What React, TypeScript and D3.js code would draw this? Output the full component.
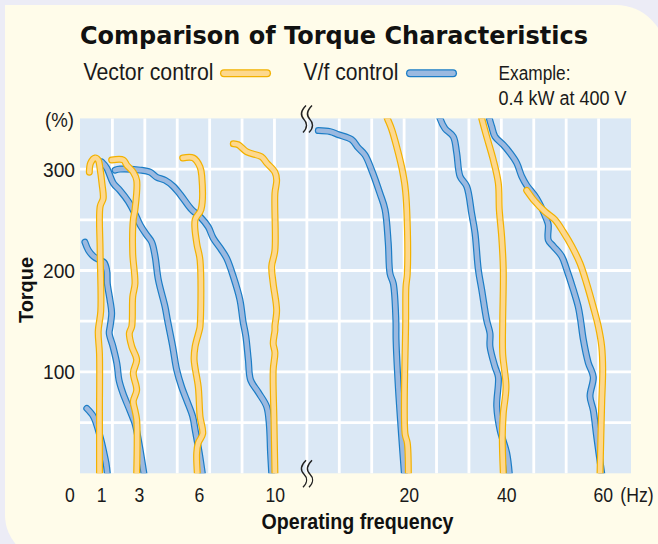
import React from "react";
import * as d3 from "d3";

// axis ticks (frequency axis is broken between 10 and 20 Hz, so it is piecewise)
const freqTicks = [0, 1, 3, 6, 10, 20, 40, 60];
const torqueTicks = [100, 200, 300];
const torqueGrid = [50, 100, 150, 200, 250, 300];

// [frequency position (Hz), torque (%)]
// V/f control
const vf1Hz = [[0.53, 64], [0.74, 56], [0.89, 43], [1.0, 30], [1.12, 20], [1.23, 10], [1.3, 0]];
const vf3Hz = [[0.47, 228], [0.58, 220], [0.74, 214], [0.95, 210], [1.12, 208], [1.27, 200], [1.3, 187], [1.44, 171], [1.53, 158], [1.45, 145], [1.4, 138], [1.6, 125], [1.81, 108], [1.92, 92], [2.13, 79], [2.5, 62], [2.77, 49], [2.98, 30], [3.23, 0]];
const vf6Hz = [[1.0, 307], [1.27, 301], [1.62, 286], [1.97, 279], [2.42, 268], [2.77, 256], [3.04, 245], [3.37, 235], [3.62, 228], [3.79, 214], [3.95, 191], [4.29, 164], [4.41, 151], [4.67, 125], [4.87, 102], [5.12, 85], [5.37, 72], [5.67, 56], [5.79, 43], [6.0, 20], [6.16, 0]];
const vf10Hz = [[1.71, 299], [1.97, 300], [3.04, 299], [3.54, 297], [3.87, 292], [4.29, 289], [4.7, 283], [5.12, 273], [5.62, 260], [6.04, 253], [6.47, 243], [6.73, 232], [7.18, 220], [7.44, 212], [7.79, 194], [8.14, 171], [8.3, 150], [8.45, 135], [8.58, 112], [8.7, 92], [9.1, 80], [9.54, 66], [9.68, 49], [9.75, 20], [9.81, 0]];
const vf20Hz = [[13.21, 338], [14.08, 337], [14.7, 334], [15.7, 329], [16.19, 321], [16.69, 314], [17.19, 299], [17.81, 276], [18.19, 260], [18.43, 227], [18.56, 197], [18.81, 187], [19.0, 150], [19.01, 132], [19.18, 85], [19.43, 36], [19.63, 0]];
const vf40Hz = [[26.0, 356], [26.3, 350], [27.33, 340], [29.03, 332], [29.73, 316], [30.41, 293], [31.79, 283], [32.81, 256], [33.49, 237], [34.17, 201], [34.87, 181], [35.89, 151], [36.57, 138], [36.57, 125], [37.6, 105], [38.28, 95], [37.95, 66], [38.62, 43], [40.0, 20], [40.54, 0]];
const vf60Hz = [[36.2, 356], [36.43, 350], [36.92, 342], [37.6, 332], [39.3, 324], [40.68, 316], [42.07, 306], [43.1, 293], [44.14, 284], [46.21, 271], [48.28, 250], [48.61, 245], [48.61, 230], [49.65, 224], [51.39, 214], [52.42, 201], [53.79, 181], [54.82, 164], [55.3, 151], [55.86, 132], [56.89, 109], [57.93, 95], [57.25, 76], [57.93, 62], [58.63, 36], [59.67, 0]];

// Vector control
const vec1Hz = [[0.61, 297], [0.65, 306], [0.79, 311], [0.89, 309], [0.95, 300], [1.02, 285], [1.08, 271], [0.95, 263], [0.95, 220], [0.97, 160], [0.89, 140], [0.93, 118], [0.93, 60], [0.93, 0]];
const vec3Hz = [[1.53, 309], [2.15, 309], [2.33, 304], [2.68, 297], [2.86, 289], [2.77, 260], [2.68, 250], [2.65, 217], [2.77, 187], [2.65, 174], [2.6, 145], [2.47, 138], [2.6, 125], [2.86, 112], [2.68, 99], [2.86, 82], [2.68, 71], [2.77, 62], [2.86, 53], [2.86, 0]];
const vec6Hz = [[5.17, 311], [5.7, 311], [6.04, 302], [6.13, 293], [6.09, 260], [5.79, 250], [5.87, 227], [6.04, 210], [6.04, 145], [6.0, 141], [5.79, 125], [5.74, 112], [5.95, 85], [6.04, 56], [6.18, 39], [5.95, 30], [5.87, 20], [5.9, 0]];
const vec10Hz = [[7.79, 325], [8.05, 324], [8.5, 317], [9.28, 312], [9.55, 306], [9.98, 297], [10.1, 289], [9.98, 276], [9.98, 220], [9.81, 204], [9.89, 187], [10.1, 161], [9.98, 145], [9.98, 141], [9.89, 128], [9.98, 119], [9.89, 102], [9.93, 53], [9.98, 0]];
const vec20Hz = [[18.2, 356], [18.36, 350], [18.69, 339], [19.06, 322], [19.43, 302], [19.68, 283], [19.81, 260], [19.85, 197], [19.75, 184], [19.73, 150], [19.68, 39], [19.85, 30], [19.93, 0]];
const vec40Hz = [[34.6, 356], [34.87, 350], [35.89, 332], [37.25, 309], [38.28, 286], [38.48, 260], [38.97, 233], [39.3, 201], [39.18, 150], [39.18, 118], [39.86, 85], [39.3, 59], [39.1, 36], [39.3, 0]];
const vec60Hz = [[44.14, 279], [45.86, 268], [47.93, 258], [50.0, 250], [51.72, 238], [53.46, 224], [55.18, 207], [56.56, 187], [57.93, 164], [58.96, 145], [59.67, 125], [59.88, 102], [59.67, 69], [59.32, 0]];

const vfCurves = [vf1Hz, vf3Hz, vf6Hz, vf10Hz, vf20Hz, vf40Hz, vf60Hz];
const vecCurves = [vec1Hz, vec3Hz, vec6Hz, vec10Hz, vec20Hz, vec40Hz, vec60Hz];

const W = 658;
const H = 544;
const plot = { left: 80, right: 631, top: 118.4, bottom: 473.3 };

const YELLOW = { edge: "#f2b100", fill: "#fdd88e" };
const BLUE = { edge: "#1b7dc6", fill: "#9bb9e0" };
const FONT = "'Liberation Sans', Arial, sans-serif";
const INK = "#1a1a1a";
const NARROW = 0.84; // squeeze Liberation Sans to look like a condensed grotesk

const x = d3.scaleLinear()
  .domain(freqTicks)
  .range([70, 101.7, 139.3, 199.3, 275.3, 409.3, 506.7, 603.3]);
const y = d3.scaleLinear().domain([0, 350]).range([plot.bottom, plot.top]);
const gridX = d3.scaleLinear().domain([0, 17]).range([plot.left, plot.right]);

const line = d3.line<number[]>()
  .x((d) => x(d[0]))
  .y((d) => y(d[1]))
  .curve(d3.curveCatmullRom.alpha(0.5));

const wave = (cx: number, cy: number) =>
  `M${cx + 2},${cy - 13} C${cx - 4},${cy - 7} ${cx - 3},${cy - 2} ${cx},${cy + 1} C${cx + 3},${cy + 4} ${cx + 4},${cy + 9} ${cx - 1},${cy + 14}`;

const Curve = ({ data, c }: { data: number[][]; c: { edge: string; fill: string } }) => (
  <g>
    <path d={line(data) ?? ""} fill="none" stroke={c.edge} strokeWidth={7} strokeLinecap="round" strokeLinejoin="round" />
    <path d={line(data) ?? ""} fill="none" stroke={c.fill} strokeWidth={4.6} strokeLinecap="round" strokeLinejoin="round" />
  </g>
);

const Swatch = ({ x1, x2, yy, c }: { x1: number; x2: number; yy: number; c: { edge: string; fill: string } }) => (
  <g>
    <line x1={x1} x2={x2} y1={yy} y2={yy} stroke={c.edge} strokeWidth={8} strokeLinecap="round" />
    <line x1={x1} x2={x2} y1={yy} y2={yy} stroke={c.fill} strokeWidth={5.4} strokeLinecap="round" />
  </g>
);

// condensed text label; len = wanted on-screen width
const Label = ({ tx, ty, size, anchor = "start", bold = false, rotate = 0, len, children }:
  { tx: number; ty: number; size: number; anchor?: string; bold?: boolean; rotate?: number; len?: number; children: React.ReactNode }) => (
  <text transform={`translate(${tx},${ty}) rotate(${rotate}) scale(${NARROW},1)`} textAnchor={anchor}
    fontSize={size} fontWeight={bold ? "bold" : "normal"} fill={bold ? "#111" : INK}
    textLength={len ? len / NARROW : undefined} lengthAdjust={len ? "spacingAndGlyphs" : undefined}>
    {children}
  </text>
);

export default function App() {
  const panel = `M5,5 H616 A50,50 0 0 1 666,55 V560 H50 A45,45 0 0 1 5,515 Z`;
  return (
    <svg width={W} height={H} style={{ position: "absolute", left: 0, top: 0 }} fontFamily={FONT}>
      <defs>
        <clipPath id="plotClip">
          <rect x={plot.left} y={plot.top} width={plot.right - plot.left} height={plot.bottom - plot.top} />
        </clipPath>
      </defs>
      <rect width={W} height={H} fill="#ececf6" />
      <path d={panel} fill="#fffcea" />

      {/* title */}
      <text x={334} y={43.5} textAnchor="middle" fontFamily="'DejaVu Sans', sans-serif" fontWeight="bold" fontSize={25}
        textLength={508} lengthAdjust="spacingAndGlyphs" fill="#111">
        Comparison of Torque Characteristics
      </text>

      {/* legend */}
      <Label tx={83.5} ty={80} size={23} len={130}>Vector control</Label>
      <Swatch x1={224} x2={267} yy={73.3} c={YELLOW} />
      <Label tx={303.5} ty={80} size={23} len={95}>V/f control</Label>
      <Swatch x1={410} x2={453} yy={73.3} c={BLUE} />
      <Label tx={498.5} ty={80} size={21} len={72}>Example:</Label>
      <Label tx={498.5} ty={105} size={21} len={128}>0.4 kW at 400 V</Label>

      {/* plot area */}
      <rect x={plot.left} y={plot.top} width={plot.right - plot.left} height={plot.bottom - plot.top} fill="#dbe8f5" />
      {d3.range(1, 17).map((i) => (
        <line key={"gx" + i} x1={gridX(i)} x2={gridX(i)} y1={plot.top} y2={plot.bottom} stroke="#fff" strokeWidth={2.8} />
      ))}
      {torqueGrid.map((t) => (
        <line key={"gy" + t} x1={plot.left} x2={plot.right} y1={y(t)} y2={y(t)} stroke="#fff" strokeWidth={2.8} />
      ))}

      <g clipPath="url(#plotClip)">
        {vfCurves.map((d, i) => <Curve key={"vf" + i} data={d} c={BLUE} />)}
        {vecCurves.map((d, i) => <Curve key={"vec" + i} data={d} c={YELLOW} />)}
      </g>

      {/* axis break marks */}
      {[plot.top, plot.bottom].map((cy) => (
        <g key={"br" + cy} fill="none" stroke="#222" strokeWidth={1.4}>
          <path d={wave(304, cy)} />
          <path d={wave(310, cy)} />
        </g>
      ))}

      {/* y axis */}
      {torqueTicks.map((t) => (
        <Label key={"yt" + t} tx={75} ty={y(t) + 7.5} size={21} anchor="end" len={32}>{t}</Label>
      ))}
      <Label tx={74} ty={127} size={21} anchor="end" len={29}>(%)</Label>
      <Label tx={33} ty={290} size={20.5} anchor="middle" bold rotate={-90} len={66}>Torque</Label>

      {/* x axis */}
      {freqTicks.map((f) => (
        <Label key={"xt" + f} tx={x(f)} ty={501.5} size={21} anchor="middle">{f}</Label>
      ))}
      <Label tx={x(60) + 17} ty={501.5} size={21}>(Hz)</Label>
      <Label tx={357.5} ty={529} size={22.5} anchor="middle" bold len={192}>Operating frequency</Label>
    </svg>
  );
}
